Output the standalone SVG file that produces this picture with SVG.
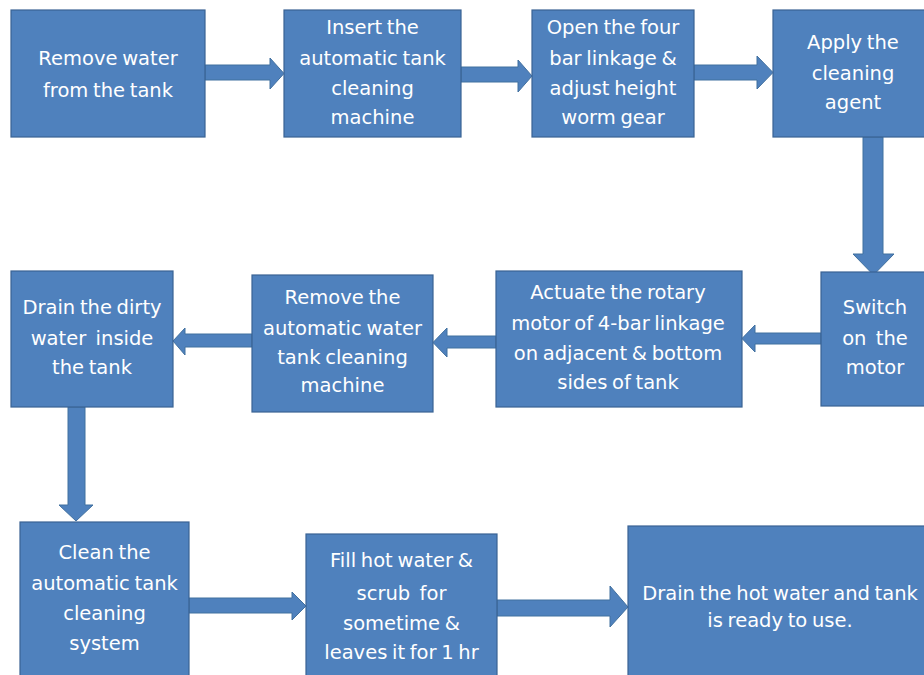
<svg xmlns="http://www.w3.org/2000/svg" width="924" height="675" viewBox="0 0 924 675">
<style>
.box{fill:#4F81BD;stroke:#3A6393;stroke-width:1.2}
.arr{fill:#4F81BD;stroke:#41709F;stroke-width:1}
text{font-family:"DejaVu Sans","Liberation Sans",sans-serif;font-size:19.5px;fill:#FFFFFF;text-anchor:middle;white-space:pre;word-spacing:-1.5px}
</style>
<rect width="924" height="675" fill="#FFFFFF"/>
<g id="connectors">
<polygon class="arr" points="205,65 270,65 270,58 284,73.5 270,89 270,80 205,80"/>
<polygon class="arr" points="461,67 518,67 518,60 532,76 518,92 518,82 461,82"/>
<polygon class="arr" points="694,65 757,65 757,56 773,72.5 757,89 757,80 694,80"/>
<polygon class="arr" points="863,137 883,137 883,254 894,254 873.5,275 853,254 863,254"/>
<polygon class="arr" points="821,333 755,333 755,325 742,338.5 755,352 755,344 821,344"/>
<polygon class="arr" points="496,336 447,336 447,328 433,342.5 447,357 447,348 496,348"/>
<polygon class="arr" points="252,334 185,334 185,328 173,341 185,355 185,347 252,347"/>
<polygon class="arr" points="68,407 85,407 85,505 93,505 76,521 59,505 68,505"/>
<polygon class="arr" points="189,598 292,598 292,592 306,606 292,620 292,613 189,613"/>
<polygon class="arr" points="497,600 610,600 610,586 628,607 610,627 610,616 497,616"/>
</g>
<g id="n1"><rect class="box" x="11" y="10" width="194" height="127"/>
<text x="108" y="65">Remove water</text><text x="108" y="97">from the tank</text></g>
<g id="n2"><rect class="box" x="284" y="10" width="177" height="127"/>
<text x="372.5" y="34">Insert the</text><text x="372.5" y="65">automatic tank</text><text x="372.5" y="95">cleaning</text><text x="372.5" y="124">machine</text></g>
<g id="n3"><rect class="box" x="532" y="10" width="162" height="127"/>
<text x="613" y="34">Open the four</text><text x="613" y="65">bar linkage &amp;</text><text x="613" y="95">adjust height</text><text x="613" y="124">worm gear</text></g>
<g id="n4"><rect class="box" x="773" y="10" width="161" height="127"/>
<text x="853" y="49">Apply the</text><text x="853" y="80">cleaning</text><text x="853" y="109">agent</text></g>
<g id="n5"><rect class="box" x="821" y="272" width="109" height="134"/>
<text x="875" y="314">Switch</text><text x="875" y="345">on  the</text><text x="875" y="374">motor</text></g>
<g id="n6"><rect class="box" x="496" y="271" width="246" height="136"/>
<text x="618" y="299">Actuate the rotary</text><text x="618" y="330">motor of 4-bar linkage</text><text x="618" y="360">on adjacent &amp; bottom</text><text x="618" y="389">sides of tank</text></g>
<g id="n7"><rect class="box" x="252" y="275" width="181" height="137"/>
<text x="342.5" y="304">Remove the</text><text x="342.5" y="335">automatic water</text><text x="342.5" y="364">tank cleaning</text><text x="342.5" y="392">machine</text></g>
<g id="n8"><rect class="box" x="11" y="271" width="162" height="136"/>
<text x="92" y="314">Drain the dirty</text><text x="92" y="345">water  inside</text><text x="92" y="374">the tank</text></g>
<g id="n9"><rect class="box" x="20" y="522" width="169" height="160"/>
<text x="104.5" y="559">Clean the</text><text x="104.5" y="590">automatic tank</text><text x="104.5" y="620">cleaning</text><text x="104.5" y="650">system</text></g>
<g id="n10"><rect class="box" x="306" y="534" width="191" height="148"/>
<text x="401.5" y="567">Fill hot water &amp;</text><text x="401.5" y="600">scrub  for</text><text x="401.5" y="630">sometime &amp;</text><text x="401.5" y="659">leaves it for 1 hr</text></g>
<g id="n11"><rect class="box" x="628" y="526" width="306" height="156"/>
<text x="780" y="600">Drain the hot water and tank</text><text x="780" y="627">is ready to use.</text></g>
</svg>
